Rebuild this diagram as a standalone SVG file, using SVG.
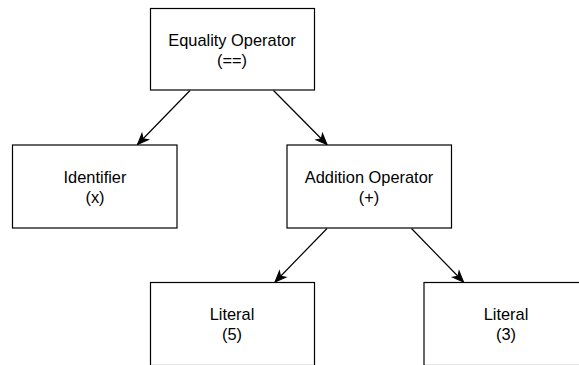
<svg xmlns="http://www.w3.org/2000/svg" width="579" height="365" viewBox="0 0 579 365">
<style>
.box{fill:#ffffff;stroke:#000000;stroke-width:1.2}
.lbl{font-family:"Liberation Sans",Arial,sans-serif;font-size:16.4px;fill:#000000;text-anchor:middle}
.edge{fill:none;stroke:#000000;stroke-width:1.2}
</style>
<defs>
<marker id="arr" markerUnits="userSpaceOnUse" markerWidth="14" markerHeight="12" viewBox="-12 -6 14 12" refX="0" refY="0" orient="auto" overflow="visible">
<path d="M0,0 L-11,-4.5 L-8,0 L-11,4.5 Z" fill="#000000" stroke="#000000" stroke-width="1"/>
</marker>
</defs>
<rect width="579" height="365" fill="#ffffff"/>
<g id="connectors">
<path class="edge" d="M190,90.5 L137.5,144.5" marker-end="url(#arr)"/>
<path class="edge" d="M273.5,90.5 L327,144.5" marker-end="url(#arr)"/>
<path class="edge" d="M327,228.5 L275,282" marker-end="url(#arr)"/>
<path class="edge" d="M411.5,228.5 L463.5,282" marker-end="url(#arr)"/>
</g>
<g id="equality">
<rect class="box" x="150.5" y="8.5" width="164" height="81.5"/>
<text class="lbl" x="232" y="45.7">Equality Operator</text>
<text class="lbl" x="232" y="65.7">(==)</text>
</g>
<g id="identifier">
<rect class="box" x="12.5" y="145" width="164.5" height="83"/>
<text class="lbl" x="95" y="182.5">Identifier</text>
<text class="lbl" x="95" y="202.5">(x)</text>
</g>
<g id="addition">
<rect class="box" x="287" y="145" width="164.5" height="83"/>
<text class="lbl" x="369" y="182.5">Addition Operator</text>
<text class="lbl" x="369" y="202.5">(+)</text>
</g>
<g id="literal5">
<rect class="box" x="150.5" y="282.5" width="164" height="83"/>
<text class="lbl" x="232" y="320">Literal</text>
<text class="lbl" x="232" y="340">(5)</text>
</g>
<g id="literal3">
<rect class="box" x="424" y="282.5" width="165" height="83"/>
<text class="lbl" x="506" y="320">Literal</text>
<text class="lbl" x="506" y="340">(3)</text>
</g>
</svg>
